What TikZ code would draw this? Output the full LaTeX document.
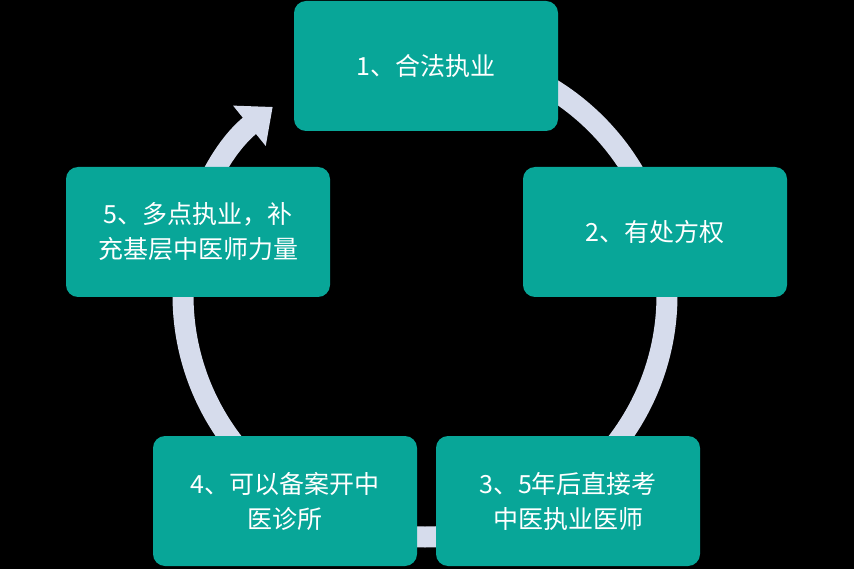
\documentclass[tikz,border=0pt]{standalone}
\usepackage{fontspec}
\setmainfont{Noto Sans CJK SC}
\usetikzlibrary{arrows.meta}
\definecolor{teal1}{RGB}{8,166,152}
\definecolor{ring}{RGB}{214,220,236}
\begin{document}
\begin{tikzpicture}[
        x=1pt, y=-1pt,
        % Teal boxes on the cycle
        stage/.style={
          rectangle,
          fill=teal1,
          rounded corners=12pt,
          minimum width=264pt,
          minimum height=130pt,
          align=center,
          text=white,
          font=\fontsize{25}{35}\selectfont,
        }
      ]
      \fill[black] (0,0) rectangle (854,569);
      \useasboundingbox (0,0) rectangle (854,569);

      % The ring with its arrow
      \draw[ring, line width=21pt, -{Triangle[width=50pt,length=30pt]}]
        (425,295) ++(-90:242) arc[start angle=-90, end angle=231, radius=242];

      % Stages
      \node (legal)   [stage] at (426,66)  {1、合法执业};
      \node (rx)      [stage] at (655,232) {2、有处方权};
      \node (exam)    [stage] at (568,501) {3、5年后直接考\\中医执业医师};
      \node (clinic)  [stage] at (285,501) {4、可以备案开中\\医诊所};
      \node (multi)   [stage] at (198,232) {5、多点执业，补\\充基层中医师力量};
\end{tikzpicture}
\end{document}
